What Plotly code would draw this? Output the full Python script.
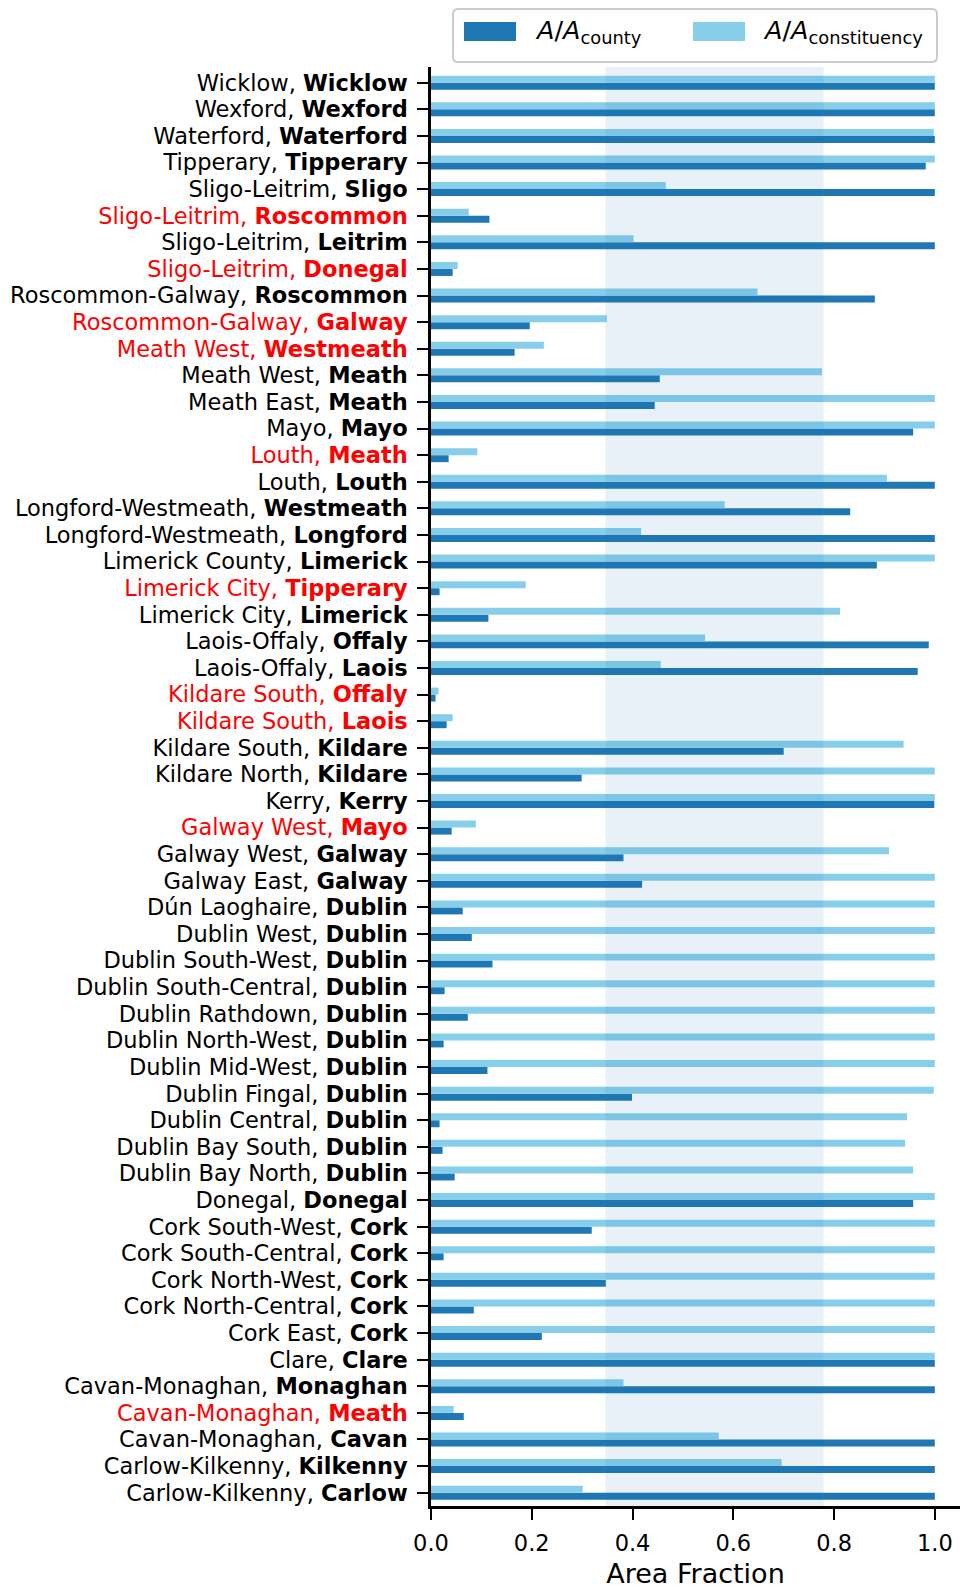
import plotly.graph_objects as go

# constituency / county pairs, bottom -> top (alphabetical, like the original sort)
constituencies = [
    "Carlow-Kilkenny", "Carlow-Kilkenny", "Cavan-Monaghan", "Cavan-Monaghan", "Cavan-Monaghan",
    "Clare", "Cork East", "Cork North-Central", "Cork North-West", "Cork South-Central",
    "Cork South-West", "Donegal", "Dublin Bay North", "Dublin Bay South", "Dublin Central",
    "Dublin Fingal", "Dublin Mid-West", "Dublin North-West", "Dublin Rathdown", "Dublin South-Central",
    "Dublin South-West", "Dublin West", "Dún Laoghaire", "Galway East", "Galway West",
    "Galway West", "Kerry", "Kildare North", "Kildare South", "Kildare South",
    "Kildare South", "Laois-Offaly", "Laois-Offaly", "Limerick City", "Limerick City",
    "Limerick County", "Longford-Westmeath", "Longford-Westmeath", "Louth", "Louth",
    "Mayo", "Meath East", "Meath West", "Meath West", "Roscommon-Galway",
    "Roscommon-Galway", "Sligo-Leitrim", "Sligo-Leitrim", "Sligo-Leitrim", "Sligo-Leitrim",
    "Tipperary", "Waterford", "Wexford", "Wicklow",
]
counties = [
    "Carlow", "Kilkenny", "Cavan", "Meath", "Monaghan",
    "Clare", "Cork", "Cork", "Cork", "Cork",
    "Cork", "Donegal", "Dublin", "Dublin", "Dublin",
    "Dublin", "Dublin", "Dublin", "Dublin", "Dublin",
    "Dublin", "Dublin", "Dublin", "Galway", "Galway",
    "Mayo", "Kerry", "Kildare", "Kildare", "Laois",
    "Offaly", "Laois", "Offaly", "Limerick", "Tipperary",
    "Limerick", "Longford", "Westmeath", "Louth", "Meath",
    "Mayo", "Meath", "Meath", "Westmeath", "Galway",
    "Roscommon", "Donegal", "Leitrim", "Roscommon", "Sligo",
    "Tipperary", "Waterford", "Wexford", "Wicklow",
]
# A / A_county
frac_county = [
    1.0, 1.0, 1.0, 0.065, 1.0,
    1.0, 0.220, 0.085, 0.347, 0.025,
    0.319, 0.957, 0.047, 0.023, 0.017,
    0.399, 0.112, 0.025, 0.073, 0.027,
    0.122, 0.081, 0.063, 0.419, 0.382,
    0.041, 0.999, 0.299, 0.700, 0.031,
    0.009, 0.966, 0.988, 0.114, 0.017,
    0.885, 1.0, 0.832, 1.0, 0.035,
    0.957, 0.444, 0.454, 0.166, 0.196,
    0.881, 0.043, 1.0, 0.116, 1.0,
    0.982, 1.0, 1.0, 1.0,
]
# A / A_constituency
frac_constituency = [
    0.301, 0.696, 0.571, 0.045, 0.382,
    1.0, 1.0, 1.0, 1.0, 1.0,
    1.0, 1.0, 0.957, 0.941, 0.945,
    0.998, 1.0, 1.0, 1.0, 1.0,
    1.0, 1.0, 1.0, 1.0, 0.909,
    0.089, 1.0, 1.0, 0.938, 0.043,
    0.015, 0.456, 0.544, 0.812, 0.188,
    1.0, 0.417, 0.583, 0.905, 0.092,
    1.0, 1.0, 0.776, 0.224, 0.349,
    0.648, 0.053, 0.402, 0.075, 0.466,
    1.0, 0.998, 1.0, 1.0,
]
# flagged pairs (drawn in red)
flagged = [
    0, 0, 0, 1, 0,
    0, 0, 0, 0, 0,
    0, 0, 0, 0, 0,
    0, 0, 0, 0, 0,
    0, 0, 0, 0, 0,
    1, 0, 0, 0, 1,
    1, 0, 0, 0, 1,
    0, 0, 0, 0, 1,
    0, 0, 0, 1, 1,
    0, 1, 0, 1, 0,
    0, 0, 0, 0,
]

SPAN_LO, SPAN_HI = 0.346, 0.779

DARK = "#1f77b4"
LIGHT = "#87ceeb"
FONT = "DejaVu Sans"

labels = []
for con, cty, red in zip(constituencies, counties, flagged):
    txt = f"{con}, <b>{cty}</b>"
    if red:
        txt = f"<span style='color:#ff0000'>{txt}</span>"
    labels.append(txt)

fig = go.Figure()
fig.add_trace(go.Bar(y=labels, x=frac_county, orientation="h", marker_color=DARK,
                     marker_line_width=0, name="county"))
fig.add_trace(go.Bar(y=labels, x=frac_constituency, orientation="h", marker_color=LIGHT,
                     marker_line_width=0, name="constituency"))

fig.add_shape(type="rect", xref="x", yref="paper", x0=SPAN_LO, x1=SPAN_HI, y0=0, y1=1,
              fillcolor="rgba(31,119,180,0.1)", line_width=0, layer="above")

# plot area in pixels, used to place the hand-drawn legend
L, R, T, B = 431, 960, 67, 1506
W, H = 960, 1589


def px(x):
    return (x - L) / (R - L)


def py(y):
    return (B - y) / (B - T)


# legend frame with rounded corners
x0, x1, y0, y1, r = 453, 937, 9, 62, 5
path = (f"M{px(x0 + r)},{py(y0)} L{px(x1 - r)},{py(y0)} Q{px(x1)},{py(y0)} {px(x1)},{py(y0 + r)} "
        f"L{px(x1)},{py(y1 - r)} Q{px(x1)},{py(y1)} {px(x1 - r)},{py(y1)} "
        f"L{px(x0 + r)},{py(y1)} Q{px(x0)},{py(y1)} {px(x0)},{py(y1 - r)} "
        f"L{px(x0)},{py(y0 + r)} Q{px(x0)},{py(y0)} {px(x0 + r)},{py(y0)} Z")
fig.add_shape(type="path", xref="paper", yref="paper", path=path,
              fillcolor="rgba(255,255,255,0.8)", line=dict(color="#cccccc", width=2))
for bx, tx, col, sub in [(464, 533, DARK, "county"), (693, 761, LIGHT, "constituency")]:
    fig.add_shape(type="rect", xref="paper", yref="paper", x0=px(bx), x1=px(bx + 52),
                  y0=py(41), y1=py(22), fillcolor=col, line_width=0)
    fig.add_annotation(xref="paper", yref="paper", x=px(tx), y=py(32), xanchor="left",
                       yanchor="middle", showarrow=False,
                       text=f"<i>A</i>/<i>A</i><sub>{sub}</sub>",
                       font=dict(family=FONT, size=25.5, color="black"))

fig.update_layout(
    width=W, height=H,
    margin=dict(l=L, r=W - R, t=T, b=H - B),
    barmode="group", bargap=0.474, bargroupgap=0,
    plot_bgcolor="white", paper_bgcolor="white",
    showlegend=False,
    font=dict(family=FONT, size=22.5, color="black"),
    xaxis=dict(range=[0, 1.05], tickvals=[0, 0.2, 0.4, 0.6, 0.8, 1.0],
               ticktext=["0.0", "0.2", "0.4", "0.6", "0.8", "1.0"],
               showline=True, linecolor="black", linewidth=2.5, ticks="outside",
               ticklen=11, tickwidth=2, tickcolor="black", showgrid=False, zeroline=False,
               ticklabelstandoff=4, automargin=False,
               title=dict(text="Area Fraction", standoff=28)),
    yaxis=dict(type="category", range=[-0.5, 53.59], tickmode="array",
               tickvals=labels, ticktext=labels,
               showline=True, linecolor="black",
               linewidth=2.5, ticks="outside", ticklen=11, tickwidth=2, tickcolor="black",
               showgrid=False, zeroline=False, ticklabelstandoff=5, automargin=False),
)

# drop the browser's default body margin so the figure sits at the page origin
fig.write_html("out.html", config={"displayModeBar": False},
               post_script="document.body.style.margin='0';")
